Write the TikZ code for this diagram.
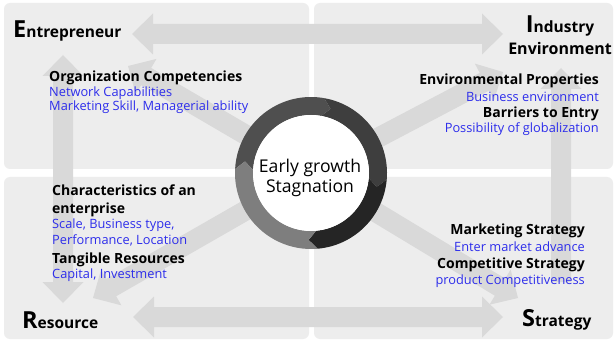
\documentclass[tikz,border=0pt]{standalone}
\usepackage{fontspec}
\setmainfont{Open Sans}
\usetikzlibrary{calc}
\definecolor{panel}{HTML}{EDEDED}
\definecolor{arr}{HTML}{D9D9D9}
\definecolor{bluetxt}{RGB}{45,45,235}
\definecolor{segA}{HTML}{4F4F4F}
\definecolor{segB}{HTML}{3E3E3E}
\definecolor{segC}{HTML}{252525}
\definecolor{segD}{HTML}{7E7E7E}
\tikzset{
  panelbox/.style={fill=panel, draw=none, rounded corners=6pt},
  hdr/.style={font=\fontsize{14}{16}\selectfont\bfseries, inner sep=0pt},
  sub/.style={font=\fontsize{12.8}{14}\selectfont, text=bluetxt, inner sep=0pt},
  big/.style={font=\bfseries, inner sep=0pt},
  ctr/.style={font=\fontsize{17.6}{20}\selectfont, inner sep=0pt}
}
\newcommand\bigE[2]{{\fontsize{23.5}{23.5}\selectfont #1}{\fontsize{15.5}{15.5}\selectfont #2}}
% double arrow between two named tips
\newcommand\dblarrow[2]{%
  \coordinate (#1b) at ($(#1)!21pt!(#2)$);
  \coordinate (#2b) at ($(#2)!21pt!(#1)$);
  \fill[arr] (#1) -- ($(#1b)!20.5pt!90:(#2)$) -- ($(#1b)!10pt!90:(#2)$)
    -- ($(#2b)!10pt!-90:(#1)$) -- ($(#2b)!20.5pt!-90:(#1)$) -- (#2)
    -- ($(#2b)!20.5pt!90:(#1)$) -- ($(#2b)!10pt!90:(#1)$)
    -- ($(#1b)!10pt!-90:(#2)$) -- ($(#1b)!20.5pt!-90:(#2)$) -- cycle;}
% single arrow from #1 (tail) to #2 (tip)
\newcommand\sglarrow[2]{%
  \coordinate (#2b) at ($(#2)!21pt!(#1)$);
  \fill[arr] (#2) -- ($(#2b)!20.5pt!-90:(#1)$) -- ($(#2b)!10pt!-90:(#1)$)
    -- ($(#1)!10pt!90:(#2)$) -- ($(#1)!10pt!-90:(#2)$)
    -- ($(#2b)!10pt!90:(#1)$) -- ($(#2b)!20.5pt!90:(#1)$) -- cycle;}
\begin{document}
\begin{tikzpicture}[x=1pt,y=-1pt]
\useasboundingbox (0,0) rectangle (616,342);
\fill[white] (0,0) rectangle (616,342);
% panels
\fill[panelbox] (4,3) rectangle (309,169);
\fill[panelbox] (314,3) rectangle (613,169);
\fill[panelbox] (4,177) rectangle (309,339);
\fill[panelbox] (314,177) rectangle (613,339);
% arrow end points
\coordinate (tl) at (132,34);
\coordinate (tr) at (503,34);
\coordinate (bl) at (133,317);
\coordinate (br) at (503,317);
\coordinate (lt) at (63,55);
\coordinate (lb) at (63,303);
\coordinate (rt) at (561,68);
\coordinate (rb) at (561,282);
\coordinate (c) at (311,173);
\coordinate (dtl) at (128,66);
\coordinate (dtr) at (503,72);
\coordinate (dbl) at (93,298);
\coordinate (dbr) at (518,298);
\dblarrow{tl}{tr}
\dblarrow{bl}{br}
\dblarrow{lt}{lb}
\sglarrow{rb}{rt}
\sglarrow{c}{dtl}
\sglarrow{c}{dtr}
\sglarrow{c}{dbl}
\sglarrow{c}{dbr}
% ring
\begin{scope}[shift={(311,173)},x=1pt,y=1pt]
\fill[segA] (177:76pt) arc[start angle=177,end angle=80,radius=76pt] -- (73:67pt) -- (80:58pt) arc[start angle=80,end angle=177,radius=58pt] -- (170:67pt) -- cycle;
\fill[segB] (80:76pt) arc[start angle=80,end angle=-5,radius=76pt] -- (-12:67pt) -- (-5:58pt) arc[start angle=-5,end angle=80,radius=58pt] -- (73:67pt) -- cycle;
\fill[segC] (-5:76pt) arc[start angle=-5,end angle=-85,radius=76pt] -- (-92:67pt) -- (-85:58pt) arc[start angle=-85,end angle=-5,radius=58pt] -- (-12:67pt) -- cycle;
\fill[segD] (-85:76pt) arc[start angle=-85,end angle=-183,radius=76pt] -- (-190:67pt) -- (-183:58pt) arc[start angle=-183,end angle=-85,radius=58pt] -- (-92:67pt) -- cycle;
\fill[white] (0,0) circle[radius=58pt];
\end{scope}
\node[ctr, anchor=base] (c1) at (310,172) {Early growth};
\node[ctr, anchor=base] (c2) at (310,193) {Stagnation};
% Entrepreneur
\node[big, anchor=base west] (ent) at (13,38) {\bigE{E}{ntrepreneur}};
\node[hdr, anchor=base west] (oc) at (49,82) {Organization Competencies};
\node[sub, anchor=base west] (oc1) at (49,97) {Network Capabilities};
\node[sub, anchor=base west] (oc2) at (49,111) {Marketing Skill, Managerial ability};
% Industry Environment
\node[big, anchor=base] (ind) at (560,33) {\bigE{I}{ndustry}};
\node[big, anchor=base] (env) at (560,55) {\fontsize{16}{16}\selectfont Environment};
\node[hdr, anchor=base east] (ep) at (599,85) {Environmental Properties};
\node[sub, anchor=base east] (ep1) at (599,102) {Business environment};
\node[hdr, anchor=base east] (be) at (599,118) {Barriers to Entry};
\node[sub, anchor=base east] (be1) at (599,133) {Possibility of globalization};
% Resource
\node[hdr, anchor=base west] (ch) at (52,196) {Characteristics of an};
\node[hdr, anchor=base west] (ch2) at (52,213) {enterprise};
\node[sub, anchor=base west] (ch3) at (52,228) {Scale, Business type,};
\node[sub, anchor=base west] (ch4) at (52,244) {Performance, Location};
\node[hdr, anchor=base west] (tr1) at (52,263) {Tangible Resources};
\node[sub, anchor=base west] (tr2) at (52,278) {Capital, Investment};
\node[big, anchor=base west] (res) at (22,328) {\bigE{R}{esource}};
% Strategy
\node[hdr, anchor=base east] (ms) at (585,234) {Marketing Strategy};
\node[sub, anchor=base east] (ms1) at (585,251) {Enter market advance};
\node[hdr, anchor=base east] (cs) at (585,268) {Competitive Strategy};
\node[sub, anchor=base east] (cs1) at (585,284) {product Competitiveness};
\node[big, anchor=base west] (str) at (522,326) {\bigE{S}{trategy}};
\end{tikzpicture}
\end{document}
